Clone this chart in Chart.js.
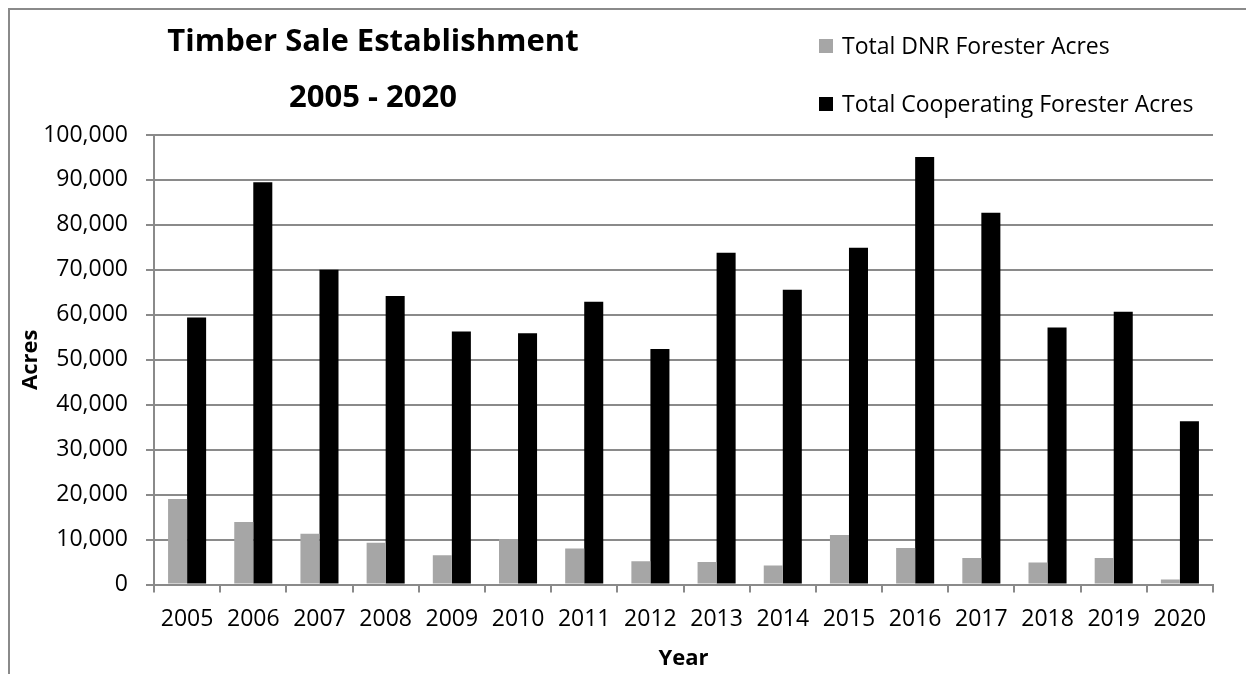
<!DOCTYPE html>
<html>
<head>
<meta charset="utf-8">
<script src="https://cdn.jsdelivr.net/npm/chart.js@4"></script>
<style>
  html, body { margin: 0; padding: 0; background: #fff; }
  #wrap { position: relative; width: 1246px; height: 674px; overflow: hidden; }
  #frame { position: absolute; left: 8px; top: 8px; right: -10px; bottom: -10px;
           border-left: 2px solid #8a8a8a; border-top: 2px solid #8a8a8a; pointer-events: none; }
  canvas { position: absolute; left: 0; top: 0; }
</style>
</head>
<body>
<div id="wrap">
  <canvas id="c" width="1246" height="674"></canvas>
  <div id="frame"></div>
</div>
<script>
const years = ['2005','2006','2007','2008','2009','2010','2011','2012','2013','2014','2015','2016','2017','2018','2019','2020'];
const dnrAcres = [19000, 13900, 11300, 9300, 6500, 10100, 8000, 5200, 5000, 4200, 11000, 8100, 5900, 4900, 5900, 1100];
const coopAcres = [59400, 89500, 70000, 64200, 56300, 55900, 62900, 52400, 73800, 65600, 74900, 95100, 82700, 57200, 60700, 36300];
const seriesNames = ['Total DNR Forester Acres', 'Total Cooperating Forester Acres'];
const titleLines = ['Timber Sale Establishment', '2005 - 2020'];
const yTitle = 'Acres';
const xTitle = 'Year';

const FONT = "'Open Sans', sans-serif";
const GRID = '#8a8a8a';

const headerPlugin = {
  id: 'header',
  afterDraw(chart) {
    const ctx = chart.ctx;
    ctx.save();
    ctx.fillStyle = '#000';
    ctx.font = "bold 31px " + FONT;
    ctx.textAlign = 'center';
    ctx.textBaseline = 'middle';
    ctx.fillText(titleLines[0], 373, 42);
    ctx.fillText(titleLines[1], 373, 98);
    const ys = [46, 104];
    ctx.font = "23px " + FONT;
    ctx.textAlign = 'left';
    chart.data.datasets.forEach((ds, i) => {
      ctx.fillStyle = ds.backgroundColor;
      ctx.fillRect(819, ys[i] - 7, 14, 14);
      ctx.fillStyle = '#000';
      ctx.fillText(ds.label, 842, ys[i] + 1);
    });
    ctx.restore();
  }
};

new Chart(document.getElementById('c'), {
  type: 'bar',
  data: {
    labels: years,
    datasets: [
      { label: seriesNames[0], data: dnrAcres, backgroundColor: '#a6a6a6', borderWidth: 0 },
      { label: seriesNames[1], data: coopAcres, backgroundColor: '#000000', borderWidth: 0 }
    ]
  },
  options: {
    responsive: false,
    animation: false,
    devicePixelRatio: 1,
    layout: { padding: { top: 135, right: 33, bottom: 0, left: 12 } },
    datasets: { bar: { categoryPercentage: 0.575, barPercentage: 1.0 } },
    plugins: {
      legend: { display: false },
      title: { display: false },
      tooltip: { enabled: false }
    },
    scales: {
      x: {
        offset: true,
        afterFit: s => { s.height = 89.5; },
        grid: { display: true, drawOnChartArea: false, drawTicks: true, tickLength: 8, color: GRID, lineWidth: 2, offset: true },
        border: { display: true, color: GRID, width: 2 },
        ticks: { color: '#000', font: { family: FONT, size: 23 }, padding: 13, maxRotation: 0 },
        title: { display: true, text: xTitle, color: '#000', font: { family: FONT, size: 22, weight: 'bold' }, padding: { top: 0, bottom: 2 } }
      },
      y: {
        min: 0, max: 100000,
        afterFit: s => { s.width = 142; },
        ticks: { stepSize: 10000, color: '#000', font: { family: FONT, size: 23 }, padding: 18,
                 callback: v => v.toLocaleString('en-US') },
        grid: { color: GRID, lineWidth: 2, drawTicks: true, tickLength: 8 },
        border: { display: true, color: GRID, width: 2 },
        title: { display: true, text: yTitle, color: '#000', font: { family: FONT, size: 22, weight: 'bold' }, padding: { top: 6, bottom: 0 } }
      }
    }
  },
  plugins: [headerPlugin]
});
</script>
</body>
</html>
